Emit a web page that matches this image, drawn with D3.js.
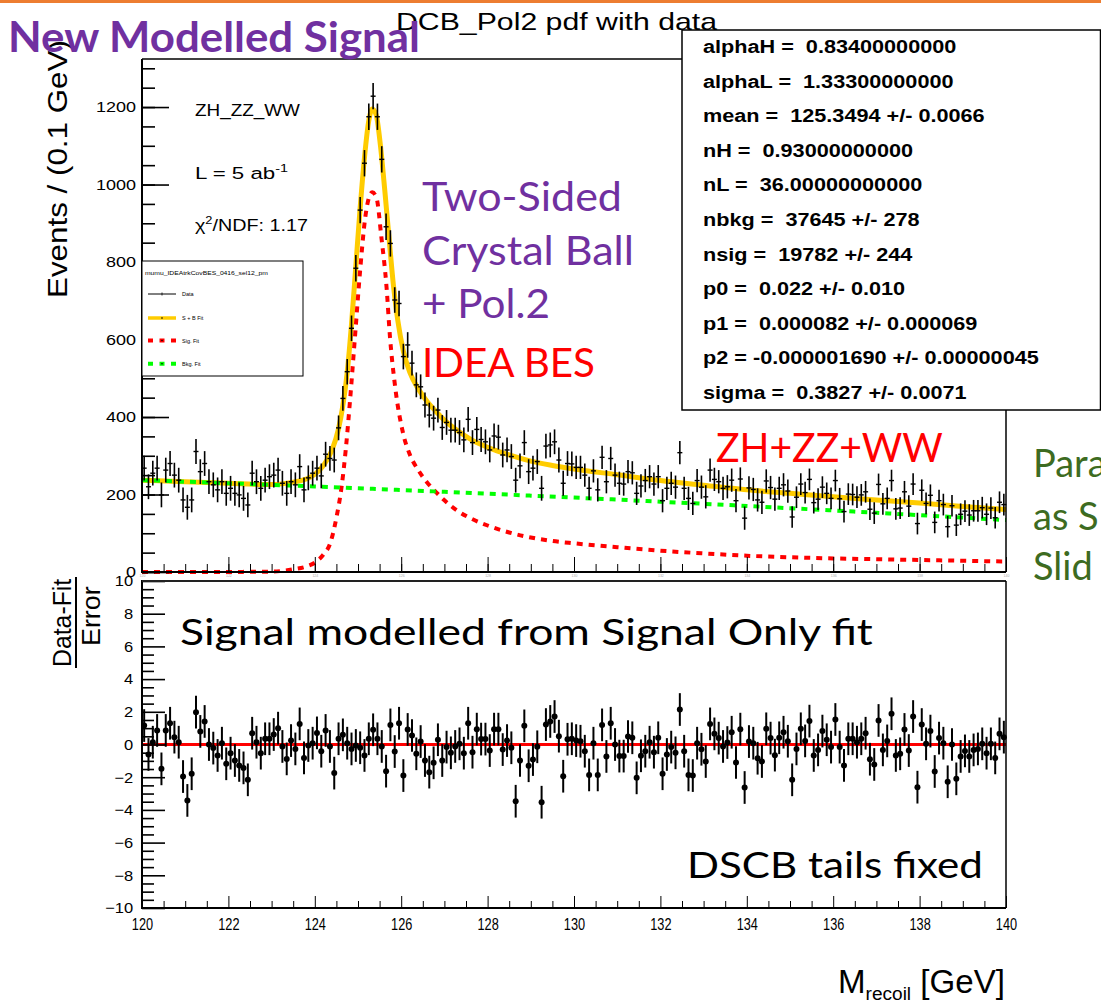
<!DOCTYPE html>
<html><head><meta charset="utf-8">
<script src="https://cdn.jsdelivr.net/npm/d3@7"></script>
<style>
body{margin:0;background:#fff}
svg{display:block}
text{font-family:"Liberation Sans",Arial,Helvetica,sans-serif}
.slide{font-family:Lato,"Open Sans",sans-serif}
</style>
</head><body>
<svg id="c" width="1101" height="1000"></svg>
<script>
// ---------------- data ----------------
const binCenters = d3.range(200).map(i => +(120.05 + 0.1 * i).toFixed(2));

const dataCounts = [
268,220,255,268,199,263,280,250,237,186, 167,186,311,259,280,233,225,212,233,203,
216,203,199,190,173,255,233,216,237,246, 250,263,229,203,233,225,272,212,243,255,
268,248,304,293,289,372,448,517,629,784, 934,1055,1175,1228,1175,1065,891,848,702,693,
556,586,539,483,478,431,405,397,418,373, 386,366,366,360,341,394,334,368,342,336,
315,351,348,302,315,298,237,274,334,259, 268,285,216,325,328,336,289,229,280,279,
270,270,250,216,261,212,296,233,293,250, 229,227,259,256,203,222,236,246,227,246,
184,216,229,219,308,216,190,177,236,219, 194,263,239,233,216,220,237,184,240,139,
217,213,186,180,235,218,188,216,225,209, 142,193,227,205,239,179,188,219,203,190,
236,189,156,201,200,193,199,207,162,152, 226,176,190,236,163,165,207,170,227,125,
211,177,198,128,184,174,117,171,121,149, 157,147,158,158,166,149,165,140,180,174
];

const dataErr = [
32,32,32,32,32,32,32,32,32,32, 32,32,32,32,32,32,32,32,32,32,
32,32,32,32,32,32,32,32,32,32, 32,32,32,32,32,32,32,32,32,32,
32,32,32,32,32,32,32,33,33,34, 34,34,34,34,34,34,34,34,33,33,
33,33,32,32,32,32,32,32,32,32, 32,32,32,32,32,32,32,32,32,32,
32,32,32,32,32,32,32,32,32,32, 32,32,32,32,32,32,32,32,32,32,
30,30,30,30,30,30,30,30,30,30, 30,30,30,30,30,30,30,30,30,30,
30,30,30,30,30,30,30,30,30,30, 30,30,30,30,30,30,30,30,30,30,
30,30,30,30,30,30,30,30,30,30, 28,28,28,28,28,28,28,28,28,28,
28,28,28,28,28,28,28,28,28,28, 28,28,28,28,28,28,28,28,28,28,
28,28,28,28,28,28,28,28,28,28, 28,28,28,28,28,28,28,28,28,28
];

const pulls = [
1.16,-0.61,0.14,0.86,-1.49,0.86,1.30,0.45,0.14,-1.96, -3.42,-1.79,1.98,0.80,1.41,0,-0.22,-0.67,0.08,-1.18,
-0.53,-0.98,-1.28,-1.43,-2.16,0.69,0.14,-0.53,0.35,0.35, 0.61,1.0,-0.12,-0.88,0.24,-0.27,1.26,-0.82,-0.06,0.08,
0.71,-0.41,0.86,-0.12,-1.75,0.35,0.59,0.08,-0.27,-0.06, -0.2,-0.67,0.35,0.9,0.35,-0.12,-1.63,1.2,-0.43,1.3,
-1.9,0.92,0.55,-0.57,0.18,-0.98,-1.69,-1.12,0.29,-0.98, -0.16,-0.51,-0.12,0.04,-0.53,1.3,-0.47,0.94,0.33,0.33,
-0.37,0.94,0.94,-0.31,0.24,-0.2,-3.47,-0.98,1.14,-1.3, -0.92,-0.14,-3.53,1.22,1.41,1.71,0.51,-1.94,0.32,0.35,
0.24,0.2,-0.41,-1.86,0.08,-1.86,1.2,-0.73,1.3,0, -0.71,-0.71,0.49,0.41,-2.04,-0.69,-0.41,0.14,-0.47,0.41,
-1.79,-0.61,-0.16,-0.51,2.14,-0.41,-1.86,-1.9,0.08,-0.29, -1.04,1.26,0.65,0.39,-0.12,0.12,0.75,-1.1,0.94,-2.63,
0.18,0.08,-0.84,-1.04,0.96,0.39,-0.65,0.41,0.75,0.2, -2.16,-0.27,0.96,0.22,1.43,-0.67,-0.33,0.82,0.29,-0.16,
1.53,-0.16,-1.28,0.35,0.35,0.14,0.35,0.69,-0.9,-1.22, 1.47,-0.33,0.22,1.88,-0.67,-0.57,0.92,-0.37,1.71,-2.61,
1.22,0.04,0.82,-1.65,0.39,0.08,-2.28,0,-2.1,-0.73, -0.39,-0.73,-0.33,-0.27,0.04,-0.53,0.04,-0.82,0.65,0.45
];

const sigX = [120,121,122,122.5,123,123.5,123.8,124.0,124.2,124.35,124.5,124.62,124.72,124.81,124.93,125.05,125.16,125.25,125.33,125.43,125.54,125.66,125.74,125.86,126.05,126.2,126.4,126.6,126.8,127,127.3,127.6,128,128.5,129,129.5,130,131,132,133,134,135,136,137,138,139,140];
const sigFit = [0,0,0,0.5,1,7,14,24,45,72,140,220,320,435,607,779,908,965,980,965,865,736,607,478,355,303,262,231,207,185,158,139,120,102,89,80,74,64,55,48,42,38,35,33,31,29,27];

const totX = [120,121,122,123,123.5,123.8,124.0,124.2,124.4,124.55,124.65,124.75,124.85,124.95,125.05,125.15,125.25,125.33,125.42,125.52,125.62,125.72,125.82,125.92,126.05,126.2,126.4,126.6,126.8,127,127.3,127.6,128,128.5,129,129.5,130,131,132,133,134,135,136,137,138,139,140];
const totFit = [237,233,229,226,232,240,252,275,315,370,430,515,640,790,940,1070,1165,1195,1180,1100,985,860,740,650,570,515,472,440,415,392,365,343,322,302,286,275,266,251,236,224,212,203,194,186,178,169,161];

const bkgX = [120,121,122,123,124,125,126,127,128,129,130,131,132,133,134,135,136,137,138,139,140];
const bkgFit = [237,233.1,229,224.9,220.6,216.1,211.6,206.9,202,197.1,192,186.8,181.4,176,170.4,164.6,158.8,152.8,146.6,140.4,134];

const yTicksTop = [0,200,400,600,800,1000,1200];
const yTicksBot = [-10,-8,-6,-4,-2,0,2,4,6,8,10];
const xTicks = [120,122,124,126,128,130,132,134,136,138,140];

const paramLines = [
"alphaH =  0.83400000000",
"alphaL =  1.33300000000",
"mean =  125.3494 +/- 0.0066",
"nH =  0.93000000000",
"nL =  36.00000000000",
"nbkg =  37645 +/- 278",
"nsig =  19782 +/- 244",
"p0 =  0.022 +/- 0.010",
"p1 =  0.000082 +/- 0.000069",
"p2 = -0.000001690 +/- 0.00000045",
"sigma =  0.3827 +/- 0.0071"
];
const legendTitle = "mumu_IDEAtrkCovBES_0416_sel12_pm";
const legendEntries = ["Data","S + B Fit","Sig. Fit","Bkg. Fit"];

// ---------------- drawing ----------------
const svg = d3.select("#c");
const C = {purple:"#7030a0", red:"#ff0000", yellow:"#ffcc00", green:"#00ff00", dkgreen:"#3d6b21", orange:"#ed7d31"};
const fmtInt = d3.format("d");

function fitText(t, x, y, w, rot) {
  const bw = t.node().getBBox().width;
  const s = w / bw;
  t.attr("x", 0).attr("y", 0).attr("text-anchor", "start")
   .attr("transform", `translate(${x},${y})` + (rot ? " rotate(-90)" : "") + ` scale(${s},1)`);
  return t;
}

const x = d3.scaleLinear().domain([120, 140]).range([142, 1006]);
const yT = d3.scaleLinear().domain([0, 1324]).range([572, 59]);
const yB = d3.scaleLinear().domain([-10, 10]).range([908, 581]);

// orange bar on top
svg.append("rect").attr("x",0).attr("y",0).attr("width",1101).attr("height",3).attr("fill",C.orange);

// plot title (behind param box)
fitText(svg.append("text").attr("font-size",24).text("DCB_Pol2 pdf with data"), 396, 30, 322);

// ---------- upper panel ----------
const up = svg.append("g");
const line = d3.line().x(d => x(d[0])).y(d => yT(d[1])).curve(d3.curveMonotoneX);

up.append("path").datum(totX.map((v,i)=>[v,totFit[i]])).attr("d",line)
  .attr("fill","none").attr("stroke",C.yellow).attr("stroke-width",5);
up.append("path").datum(sigX.map((v,i)=>[v,sigFit[i]])).attr("d",line)
  .attr("fill","none").attr("stroke",C.red).attr("stroke-width",4).attr("stroke-dasharray","6,6");
up.append("path").datum(bkgX.map((v,i)=>[v,bkgFit[i]])).attr("d",line)
  .attr("fill","none").attr("stroke",C.green).attr("stroke-width",4).attr("stroke-dasharray","6,6");

const pts = up.append("g").selectAll("g").data(binCenters.map((m,i)=>({m, v:dataCounts[i], e:dataErr[i]}))).join("g");
pts.append("line").attr("x1",d=>x(d.m)).attr("x2",d=>x(d.m))
   .attr("y1",d=>yT(d.v-d.e)).attr("y2",d=>yT(d.v+d.e)).attr("stroke","#000").attr("stroke-width",1.6);
pts.append("line").attr("x1",d=>x(d.m)-2.5).attr("x2",d=>x(d.m)+2.5)
   .attr("y1",d=>yT(d.v)).attr("y2",d=>yT(d.v)).attr("stroke","#000").attr("stroke-width",1.4);

// upper axes
const gyT = up.append("g").attr("transform","translate(142,0)")
  .call(d3.axisLeft(yT).tickValues(yTicksTop).tickFormat(fmtInt).tickSize(-27).tickSizeOuter(0).tickPadding(5));
gyT.select(".domain").remove();
gyT.selectAll("line").attr("stroke-width",1.6);
gyT.selectAll("text").attr("font-size",15).attr("font-family",'"Liberation Sans",Arial').attr("transform","scale(1.2,1)");
const gyTm = up.append("g").attr("transform","translate(142,0)")
  .call(d3.axisLeft(yT).tickValues(d3.range(0,1324,50)).tickSize(-13).tickSizeOuter(0).tickFormat(""));
gyTm.select(".domain").remove();
gyTm.selectAll("line").attr("stroke-width",1.6);

const gxT = up.append("g").attr("transform","translate(0,572)")
  .call(d3.axisBottom(x).tickValues(xTicks).tickFormat(fmtInt).tickSize(-15).tickSizeOuter(0).tickPadding(3));
gxT.select(".domain").remove();
gxT.selectAll("text").attr("font-size",3.5).attr("fill","#aaa");
const gxTm = up.append("g").attr("transform","translate(0,572)")
  .call(d3.axisBottom(x).tickValues(d3.range(120.5,140,0.5)).tickSize(-8).tickSizeOuter(0).tickFormat(""));
gxTm.select(".domain").remove();

// frame upper
up.append("line").attr("x1",142).attr("x2",142).attr("y1",59).attr("y2",573).attr("stroke","#000").attr("stroke-width",2);
up.append("line").attr("x1",141).attr("x2",1006).attr("y1",572).attr("y2",572).attr("stroke","#000").attr("stroke-width",2);
up.append("line").attr("x1",142).attr("x2",1006).attr("y1",59).attr("y2",59).attr("stroke","#000").attr("stroke-width",1.5);
up.append("line").attr("x1",1006).attr("x2",1006).attr("y1",59).attr("y2",572).attr("stroke","#000").attr("stroke-width",1.5);

// in-plot texts
fitText(up.append("text").attr("font-size",17).text("ZH_ZZ_WW"), 195, 116, 105);
const lt = up.append("text").attr("font-size",17);
lt.append("tspan").text("L = 5 ab");
lt.append("tspan").attr("font-size",11).attr("dy",-7).text("-1");
fitText(lt, 195, 179, 93);
const ct = up.append("text").attr("font-size",17);
ct.append("tspan").text("χ");
ct.append("tspan").attr("font-size",11).attr("dy",-7).text("2");
ct.append("tspan").attr("dy",7).text("/NDF: 1.17");
fitText(ct, 195, 231, 113);

// legend
const lg = up.append("g");
lg.append("rect").attr("x",142).attr("y",261).attr("width",161).attr("height",115).attr("fill","#fff").attr("stroke","#000").attr("stroke-width",1);
fitText(lg.append("text").attr("font-size",6).text(legendTitle), 145, 274.5, 123);
const ly = [294, 318, 340.5, 363.7];
lg.append("line").attr("x1",148).attr("x2",176).attr("y1",ly[0]).attr("y2",ly[0]).attr("stroke","#000").attr("stroke-width",1);
lg.append("line").attr("x1",162).attr("x2",162).attr("y1",ly[0]-1.5).attr("y2",ly[0]+1.5).attr("stroke","#000").attr("stroke-width",0.8);
lg.append("line").attr("x1",148).attr("x2",176).attr("y1",ly[1]).attr("y2",ly[1]).attr("stroke",C.yellow).attr("stroke-width",3.5);
lg.append("circle").attr("cx",162).attr("cy",ly[1]).attr("r",0.8).attr("fill","#000");
lg.append("line").attr("x1",148).attr("x2",177).attr("y1",ly[2]).attr("y2",ly[2]).attr("stroke",C.red).attr("stroke-width",4).attr("stroke-dasharray","5,6.5");
lg.append("circle").attr("cx",162).attr("cy",ly[2]).attr("r",0.8).attr("fill","#000");
lg.append("line").attr("x1",148).attr("x2",177).attr("y1",ly[3]).attr("y2",ly[3]).attr("stroke",C.green).attr("stroke-width",4).attr("stroke-dasharray","5,6.5");
lg.append("circle").attr("cx",162).attr("cy",ly[3]).attr("r",0.8).attr("fill","#000");
legendEntries.forEach((t,i)=>{
  lg.append("text").attr("x",182).attr("y",ly[i]+2).attr("font-size",5.5).text(t);
});

// param box
const pb = svg.append("g");
pb.append("rect").attr("x",682).attr("y",30).attr("width",418.5).attr("height",380).attr("fill","#fff").attr("stroke","#000").attr("stroke-width",1.5);
paramLines.forEach((t,i)=>{
  pb.append("text").attr("font-size",19).attr("font-weight","bold").style("white-space","pre")
    .attr("x",0).attr("y",0).attr("transform",`translate(703,${53+34.6*i}) scale(1.14,1)`).text(t);
});

// ---------- lower panel ----------
const lo = svg.append("g");
lo.append("line").attr("x1",x(120)).attr("x2",x(140)).attr("y1",yB(0)).attr("y2",yB(0)).attr("stroke",C.red).attr("stroke-width",3);
const pp = lo.append("g").selectAll("g").data(binCenters.map((m,i)=>({m, p:pulls[i]}))).join("g");
pp.append("line").attr("x1",d=>x(d.m)).attr("x2",d=>x(d.m)).attr("y1",d=>yB(d.p-1)).attr("y2",d=>yB(d.p+1)).attr("stroke","#000").attr("stroke-width",2);
pp.append("circle").attr("cx",d=>x(d.m)).attr("cy",d=>yB(d.p)).attr("r",3).attr("fill","#000");

const gyB = lo.append("g").attr("transform","translate(142,0)")
  .call(d3.axisLeft(yB).tickValues(yTicksBot).tickFormat(fmtInt).tickSize(-23).tickSizeOuter(0).tickPadding(8));
gyB.select(".domain").remove();
gyB.selectAll("line").attr("stroke-width",1.6);
gyB.selectAll("text").attr("font-size",15).attr("font-family",'"Liberation Sans",Arial').attr("transform","scale(1.1,1)");
const gyBm = lo.append("g").attr("transform","translate(142,0)")
  .call(d3.axisLeft(yB).tickValues(d3.range(-9.5,10,0.5).filter(v=>Math.abs(v%2)>1e-6)).tickSize(-12).tickSizeOuter(0).tickFormat(""));
gyBm.select(".domain").remove();
gyBm.selectAll("line").attr("stroke-width",1.6);

const gxB = lo.append("g").attr("transform","translate(0,908)")
  .call(d3.axisBottom(x).tickValues(xTicks).tickFormat(fmtInt).tickSize(-12).tickSizeOuter(0).tickPadding(10));
gxB.select(".domain").remove();
gxB.selectAll("text").attr("font-size",17).attr("font-family",'"Liberation Sans",Arial').attr("transform","scale(0.75,1)");
const gxBm = lo.append("g").attr("transform","translate(0,908)")
  .call(d3.axisBottom(x).tickValues(d3.range(120.5,140,0.5).filter(v=>Math.abs(v%2)>1e-6)).tickSize(-7).tickSizeOuter(0).tickFormat(""));
gxBm.select(".domain").remove();

lo.append("line").attr("x1",142).attr("x2",142).attr("y1",580).attr("y2",909).attr("stroke","#000").attr("stroke-width",2);
lo.append("line").attr("x1",141).attr("x2",1006).attr("y1",908).attr("y2",908).attr("stroke","#000").attr("stroke-width",2);
lo.append("line").attr("x1",142).attr("x2",1006).attr("y1",581).attr("y2",581).attr("stroke","#222").attr("stroke-width",2);
lo.append("line").attr("x1",1006).attr("x2",1006).attr("y1",581).attr("y2",908).attr("stroke","#000").attr("stroke-width",1.5);

// axis titles
fitText(svg.append("text").attr("font-size",28).text("Events / (0.1 GeV)"), 67, 298, 258, true);
fitText(svg.append("text").attr("font-size",26).text("Data-Fit"), 71, 667, 89, true);
svg.append("line").attr("x1",76).attr("x2",76).attr("y1",577).attr("y2",668).attr("stroke","#000").attr("stroke-width",2);
fitText(svg.append("text").attr("font-size",26).text("Error"), 100, 646, 60, true);
const mt = svg.append("text").attr("font-size",33);
mt.append("tspan").text("M");
mt.append("tspan").attr("font-size",19).attr("dy",7).text("recoil");
mt.append("tspan").attr("dy",-7).text(" [GeV]");
fitText(mt, 838, 993, 167);

// ---------- slide annotations ----------
function slideText(t, col, fs, xx, yy, w, bold) {
  const el = svg.append("text").attr("class","slide").attr("font-size",fs).attr("fill",col).text(t);
  if (bold) el.attr("font-weight","bold");
  if (w) fitText(el, xx, yy, w); else el.attr("x",xx).attr("y",yy);
  return el;
}
slideText("New Modelled Signal", C.purple, 42, 8, 52, 412, true);
slideText("Two-Sided", C.purple, 40, 422, 211, 200);
slideText("Crystal Ball", C.purple, 40, 422, 265, 212);
slideText("+ Pol.2", C.purple, 40, 422, 318, 128);
slideText("IDEA BES", C.red, 40, 422, 377, 173);
slideText("ZH+ZZ+WW", C.red, 40, 716, 462, 227);
slideText("Para", C.dkgreen, 38, 1033, 477);
slideText("as S", C.dkgreen, 38, 1033, 530);
slideText("Slid", C.dkgreen, 38, 1033, 580);
slideText("Signal modelled from Signal Only fit", "#000", 37, 180, 645, 693);
slideText("DSCB tails fixed", "#000", 37, 687, 878, 296);
</script>
</body></html>
